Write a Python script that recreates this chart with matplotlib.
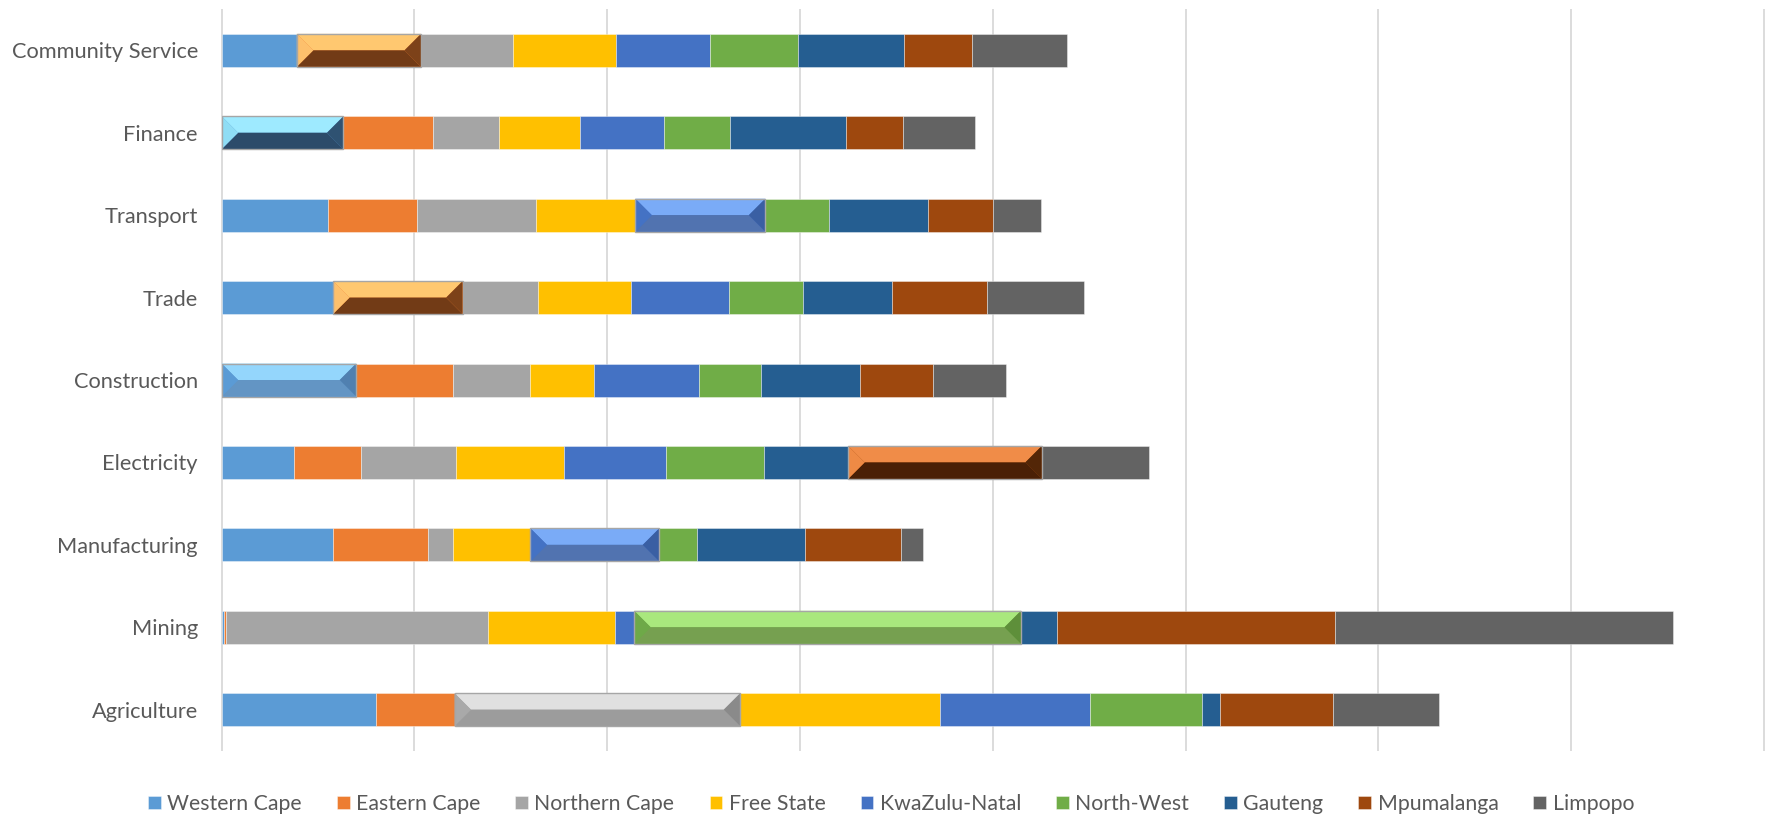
import matplotlib
matplotlib.use("Agg")
import matplotlib.pyplot as plt
from matplotlib.patches import Polygon, Rectangle
import numpy as np

plt.rcParams['font.family'] = ['Lato', 'DejaVu Sans']

categories = ["Agriculture", "Mining", "Manufacturing", "Electricity", "Construction",
              "Trade", "Transport", "Finance", "Community Service"]
provinces = ["Western Cape", "Eastern Cape", "Northern Cape", "Free State", "KwaZulu-Natal",
             "North-West", "Gauteng", "Mpumalanga", "Limpopo"]

western_cape = [4.00, 0.05, 2.90, 1.87, 3.49, 2.89, 2.76, 3.16, 1.95]
eastern_cape = [2.04, 0.07, 2.46, 1.75, 2.51, 3.36, 2.30, 2.32, 3.22]
northern_cape = [7.41, 6.79, 0.65, 2.46, 2.01, 1.96, 3.10, 1.71, 2.40]
free_state = [5.18, 3.30, 2.00, 2.80, 1.64, 2.42, 2.57, 2.11, 2.65]
kwazulu_natal = [3.89, 0.49, 3.34, 2.64, 2.72, 2.53, 3.37, 2.17, 2.44]
north_west = [2.90, 10.03, 0.97, 2.54, 1.62, 1.93, 1.65, 1.71, 2.28]
gauteng = [0.48, 0.94, 2.82, 2.19, 2.56, 2.29, 2.56, 3.02, 2.76]
mpumalanga = [2.92, 7.20, 2.49, 5.02, 1.90, 2.48, 1.70, 1.48, 1.76]
limpopo = [2.74, 8.78, 0.56, 2.79, 1.88, 2.51, 1.25, 1.87, 2.47]

series = [western_cape, eastern_cape, northern_cape, free_state, kwazulu_natal,
          north_west, gauteng, mpumalanga, limpopo]
colors = ["#5B9BD5", "#ED7D31", "#A5A5A5", "#FFC000", "#4472C4",
          "#70AD47", "#255E91", "#9E480E", "#636363"]

# which segment of each bar is drawn with the bevel effect: (top, bottom, left, right)
bevels = {
    "Agriculture": ("Northern Cape", ("#E0E0E0", "#9C9C9C", "#A9A9A9", "#8A8A8A")),
    "Mining": ("North-West", ("#A9E87D", "#76A050", "#6EA948", "#5E8F3A")),
    "Manufacturing": ("KwaZulu-Natal", ("#7AABF7", "#5173B0", "#4472C4", "#3A5FA3")),
    "Electricity": ("Mpumalanga", ("#F08C48", "#4A2006", "#EE8A45", "#532607")),
    "Construction": ("Western Cape", ("#94D6FC", "#6395C4", "#5B9BD5", "#5080B0")),
    "Trade": ("Eastern Cape", ("#FFC870", "#723B16", "#FDC06C", "#7D4219")),
    "Transport": ("KwaZulu-Natal", ("#7AABF7", "#5173B0", "#4472C4", "#3A5FA3")),
    "Finance": ("Western Cape", ("#9EEAFF", "#2C4B6A", "#8FDDF5", "#2F5272")),
    "Community Service": ("Eastern Cape", ("#FFC870", "#723B16", "#FDC06C", "#7D4219")),
}

fig = plt.figure(figsize=(17.69, 8.14), dpi=100)
ax = fig.add_axes([221.6 / 1769, 0.0775, (1764 - 221.6) / 1769, 0.9113])

y = np.arange(len(categories))
bar_h = 0.4
left = np.zeros(len(categories))
containers = []
for name, vals, col in zip(provinces, series, colors):
    c = ax.barh(y, vals, left=left, height=bar_h, color=col, label=name,
                edgecolor=(1, 1, 1, 0.45), linewidth=0.6, zorder=2)
    containers.append(c)
    left += np.array(vals)

ax.set_xlim(0, 40)
ax.set_ylim(-0.5, len(categories) - 0.5)

# vertical gridlines (behind bars)
ax.vlines(np.arange(0, 41, 5), -0.5, len(categories) - 0.5, color="#D9D9D9",
          linewidth=1.3, zorder=0, clip_on=False)

# bevel overlays
fig.canvas.draw()
p0 = ax.transData.transform((0, 0))
p1 = ax.transData.transform((1, 1))
px_x = p1[0] - p0[0]
px_y = p1[1] - p0[1]
for i, cat in enumerate(categories):
    prov, (ctop, cbot, cl, cr) = bevels[cat]
    rect = containers[provinces.index(prov)].patches[i]
    x0 = rect.get_x()
    x1 = x0 + rect.get_width()
    yb = rect.get_y()
    yt = yb + rect.get_height()
    ym = (yb + yt) / 2
    d = (rect.get_height() / 2) * px_y / px_x
    ax.add_patch(Polygon([(x0, yt), (x1, yt), (x1 - d, ym), (x0 + d, ym)],
                         facecolor=ctop, edgecolor="none", zorder=3))
    ax.add_patch(Polygon([(x0 + d, ym), (x1 - d, ym), (x1, yb), (x0, yb)],
                         facecolor=cbot, edgecolor="none", zorder=3))
    ax.add_patch(Polygon([(x0, yt), (x0 + d, ym), (x0, yb)],
                         facecolor=cl, edgecolor="none", zorder=3))
    ax.add_patch(Polygon([(x1, yt), (x1, yb), (x1 - d, ym)],
                         facecolor=cr, edgecolor="none", zorder=3))
    ax.add_patch(Rectangle((x0, yb), x1 - x0, yt - yb, facecolor="none",
                           edgecolor="#A6A6A6", linewidth=1.0, zorder=4))

ax.set_yticks(y)
ax.set_yticklabels(categories, fontsize=15.7, color="#595959")
ax.set_xticks([])
ax.tick_params(axis="y", length=0, pad=17)
for s in ax.spines.values():
    s.set_visible(False)

fig.legend(handles=containers, labels=provinces, loc="center",
           bbox_to_anchor=(891 / 1769, 10 / 814), ncol=9, frameon=False,
           fontsize=15.3, labelcolor="#595959", handlelength=0.6, handleheight=0.62,
           handletextpad=0.3, columnspacing=1.65, borderpad=0, borderaxespad=0)

fig.savefig("out.png", dpi=100)
